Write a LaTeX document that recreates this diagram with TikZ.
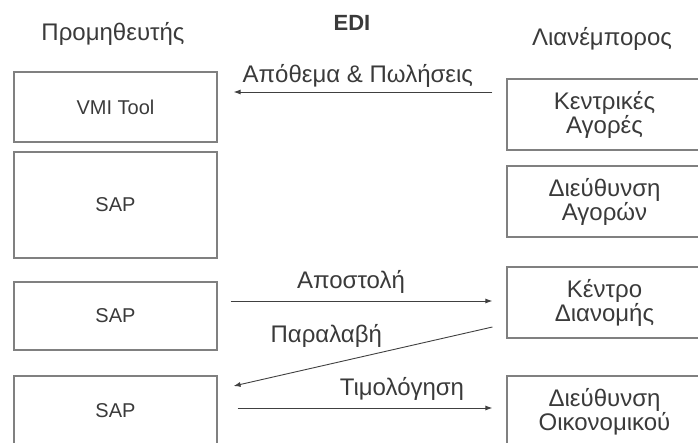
\documentclass[tikz,border=0pt]{standalone}
\usepackage{fontspec}
\setmainfont{Liberation Sans}
\usetikzlibrary{positioning,arrows.meta,calc}
\definecolor{boxgray}{HTML}{808080}
\definecolor{txtgray}{HTML}{3A3A3A}
\definecolor{arrgray}{HTML}{404040}

\begin{document}
\begin{tikzpicture}[
    x=1pt, y=-1pt,
    >={Latex[length=7pt,width=5pt]},
    every node/.style={text=txtgray},
    head/.style={font=\fontsize{24}{23}\selectfont, anchor=base},
    sysbox/.style={
        draw=boxgray, line width=1.2pt,
        minimum width=203pt, minimum height=#1,
        font=\fontsize{20}{24}\selectfont, inner sep=0pt
    },
    unitbox/.style={
        draw=boxgray, line width=1.2pt,
        minimum width=195pt, minimum height=71pt,
        font=\fontsize{24}{23}\selectfont, align=center, inner sep=0pt
    },
    lbl/.style={font=\fontsize{24}{23}\selectfont, anchor=base},
    arr/.style={->, line width=0.9pt, color=arrgray},
]
\useasboundingbox (0,0) rectangle (698,442);
\clip (0,0) rectangle (698,442);

% Column headings
\node[head] (supplier) at (113,40) {Προμηθευτής};
\node[head, font=\fontsize{22}{22}\selectfont\bfseries] (edi) at (352,30) {EDI};
\node[head] (retailer) at (602,45) {Λιανέμπορος};

% === Supplier side ===
\node[sysbox=70pt] (vmi) at (115.5,107) {VMI Tool};
\node[sysbox=106pt] (sapa) at (115.5,205) {SAP};
\node[sysbox=68pt] (sapb) at (115.5,316) {SAP};
\node[sysbox=70pt] (sapc) at (115.5,411) {SAP};

% === Retailer side ===
\node[unitbox] (central) at (604.5,114.5) {Κεντρικές\\Αγορές};
\node[unitbox] (purch) at (604.5,201.5) {Διεύθυνση\\Αγορών};
\node[unitbox] (distr) at (604.5,302.5) {Κέντρο\\Διανομής};
\node[unitbox] (finance) at (604.5,411.5) {Διεύθυνση\\Οικονομικού};

% EDI messages
\draw[arr] ([shift={(-14pt,22.5pt)}]central.west) -- ([shift={(16pt,15pt)}]vmi.east)
    node[lbl, pos=0.52, yshift=10pt] (stock) {Απόθεμα \& Πωλήσεις};
\draw[arr] ([shift={(13pt,15pt)}]sapb.east) -- ([shift={(-14pt,1.5pt)}]distr.west)
    node[lbl, pos=0.46, yshift=13pt] (ship) {Αποστολή};
\draw[arr] ([shift={(-14pt,-24.5pt)}]distr.west) -- ([shift={(16pt,25pt)}]sapc.east)
    node[lbl, pos=0.642, yshift=22pt] (recv) {Παραλαβή};
\draw[arr] ([shift={(20pt,3pt)}]sapc.east) -- ([shift={(-14pt,3.5pt)}]finance.west)
    node[lbl, pos=0.645, yshift=13pt] (bill) {Τιμολόγηση};

\end{tikzpicture}
\end{document}
